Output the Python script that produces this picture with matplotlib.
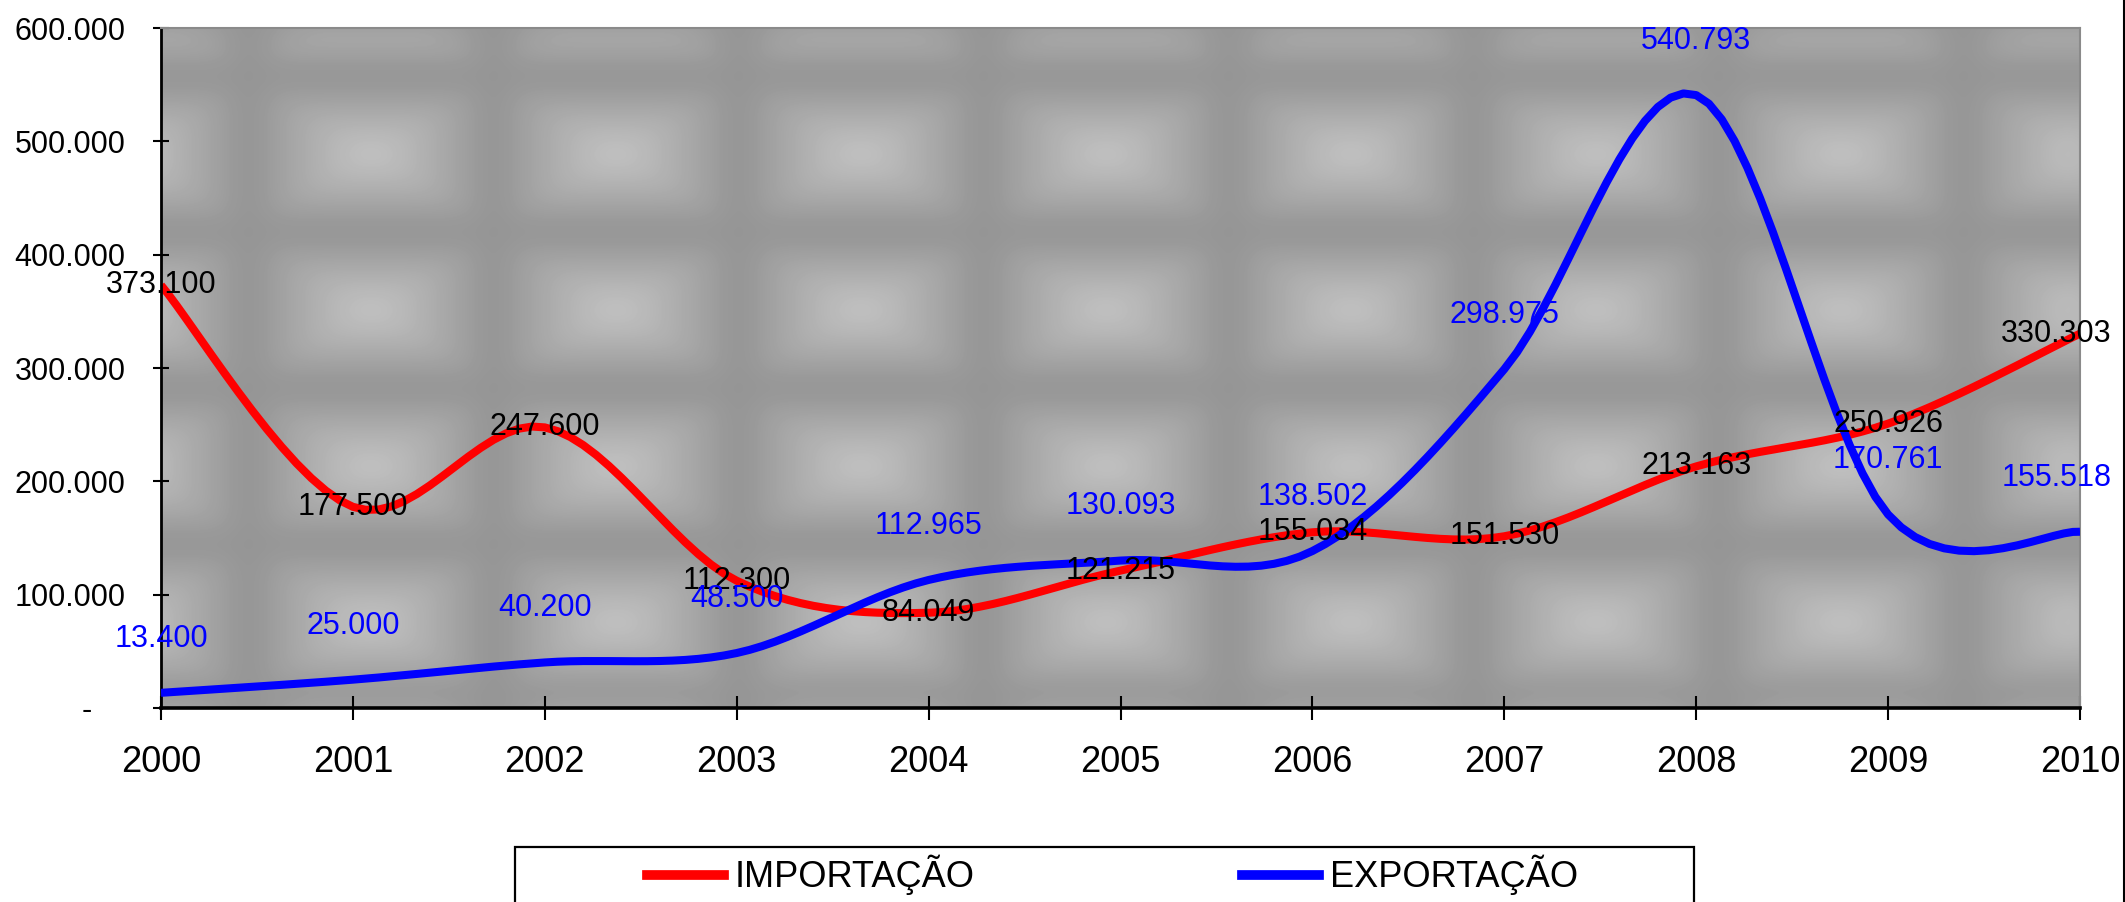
import numpy as np
import matplotlib
matplotlib.use("Agg")
import matplotlib.pyplot as plt
from matplotlib.lines import Line2D
from matplotlib.patches import Rectangle
from matplotlib.transforms import ScaledTranslation

plt.rcParams['font.family'] = ['Liberation Sans', 'DejaVu Sans']

anos = ['2000', '2001', '2002', '2003', '2004', '2005', '2006', '2007', '2008', '2009', '2010']
importacao = [373100, 177500, 247600, 112300, 84049, 121215, 155034, 151530, 213163, 250926, 330303]
exportacao = [13400, 25000, 40200, 48500, 112965, 130093, 138502, 298975, 540793, 170761, 155518]
y_ticks = [0, 100000, 200000, 300000, 400000, 500000, 600000]


def fmt(v):
    return f"{v:,}".replace(",", ".")


def smooth(ys, n=16):
    # bezier smoothing like the spreadsheet "smoothed line"
    pts = np.column_stack([np.arange(len(ys), dtype=float), np.array(ys, dtype=float)])
    ext = np.vstack([pts[0], pts, pts[-1]])
    out = []
    t = np.linspace(0, 1, n)[:, None]
    for i in range(len(pts) - 1):
        p0, p1, p2, p3 = ext[i], ext[i + 1], ext[i + 2], ext[i + 3]
        c1 = p1 + (p2 - p0) / 6
        c2 = p2 - (p3 - p1) / 6
        seg = (1 - t) ** 3 * p1 + 3 * (1 - t) ** 2 * t * c1 + 3 * (1 - t) * t ** 2 * c2 + t ** 3 * p2
        out.append(seg if i == 0 else seg[1:])
    seg = np.vstack(out)
    return seg[:, 0], seg[:, 1]


def box_blur(a, r, axis):
    pad = [(0, 0), (0, 0)]
    pad[axis] = (r, r)
    b = np.pad(a, pad, mode='wrap')
    c = np.cumsum(b, axis=axis)
    c = np.insert(c, 0, 0, axis=axis)
    n = a.shape[axis]
    hi = np.take(c, np.arange(2 * r + 1, 2 * r + 1 + n), axis=axis)
    lo = np.take(c, np.arange(0, n), axis=axis)
    return (hi - lo) / (2 * r + 1)


fig = plt.figure(figsize=(21.25, 9.02), dpi=100)
ax = fig.add_axes([161 / 2125, 1 - 708 / 902, (2080 - 161) / 2125, (708 - 28) / 902])

# textured gray background of the plot area (soft pillow-like tiles)
H, W = 680, 1919
yy, xx = np.mgrid[0:H, 0:W].astype(float)
Px, Py = 245.0, 156.0
dx = np.abs(((xx - 210 + Px / 2) % Px) - Px / 2) / (Px / 2)
dy = np.abs(((yy - 126 + Py / 2) % Py) - Py / 2) / (Py / 2)
light = np.clip(1 - np.maximum(dx * 0.95, dy) * 1.1, 0, 1)
for _ in range(2):
    light = box_blur(light, 14, 0)
    light = box_blur(light, 14, 1)
light = light / light.max()
tex = 148 + 42 * light ** 0.9
ax.imshow(tex, extent=[0, 1, 0, 1], transform=ax.transAxes, aspect='auto',
          cmap='gray', vmin=0, vmax=255, interpolation='bilinear', zorder=0)

x = np.arange(len(anos))
xi, yi = smooth(importacao)
xe, ye = smooth(exportacao)
ax.plot(xi, yi, color='#ff0000', lw=5.8, solid_capstyle='butt', zorder=2)
ax.plot(xe, ye, color='#0000ff', lw=5.8, solid_capstyle='butt', zorder=3)

last = len(anos) - 1
for xv, v in zip(x, importacao):
    dxo = -17 if xv == last else 0
    ax.annotate(fmt(v), (xv, v), xytext=(dxo, 0), textcoords='offset points',
                ha='center', va='center', fontsize=22, color='black', zorder=5)
for xv, v in zip(x, exportacao):
    dxo = -17 if xv == last else 0
    ax.annotate(fmt(v), (xv, v), xytext=(dxo, 39), textcoords='offset points',
                ha='center', va='center', fontsize=22, color='#0000ff', zorder=5)

ax.set_xlim(0, last)
ax.set_ylim(0, 600000)
ax.set_xticks(x)
ax.set_xticklabels(anos, fontsize=26)
ax.set_yticks(y_ticks)
ax.set_yticklabels(['-'] + [fmt(v) for v in y_ticks[1:]], fontsize=22)
ax.tick_params(axis='x', direction='inout', length=17, width=1.5, pad=18)
ax.tick_params(axis='y', direction='inout', length=11, width=1.5, pad=20)

# zero label sits further left
lab0 = ax.get_yticklabels()[0]
lab0.set_transform(lab0.get_transform() + ScaledTranslation(-0.34, 0, fig.dpi_scale_trans))

for s in ['top', 'right']:
    ax.spines[s].set_color('#8a8a8a')
    ax.spines[s].set_linewidth(1.5)
ax.spines['left'].set_linewidth(2.0)
ax.spines['bottom'].set_linewidth(2.6)

# legend box (cut by the figure bottom)
fig.patches.append(Rectangle((515 / 2125, -0.1), (1694 - 515) / 2125, 0.1 + 1 - 847 / 902,
                             transform=fig.transFigure, fill=False, edgecolor='black', lw=1.6))
handles = [Line2D([], [], color='#ff0000', lw=7), Line2D([], [], color='#0000ff', lw=7)]
fig.legend(handles, ['IMPORTAÇÃO', 'EXPORTAÇÃO'], loc='center left',
           bbox_to_anchor=(647 / 2125, 1 - 875 / 902), ncol=2, frameon=False, fontsize=26,
           handlelength=2.13, handletextpad=0.3, columnspacing=7.4, borderpad=0, borderaxespad=0)

# chart border on the right edge
fig.lines.append(Line2D([2124 / 2125, 2124 / 2125], [0, 1], transform=fig.transFigure,
                        color='black', lw=1.5))

fig.savefig('out.png', dpi=100)
